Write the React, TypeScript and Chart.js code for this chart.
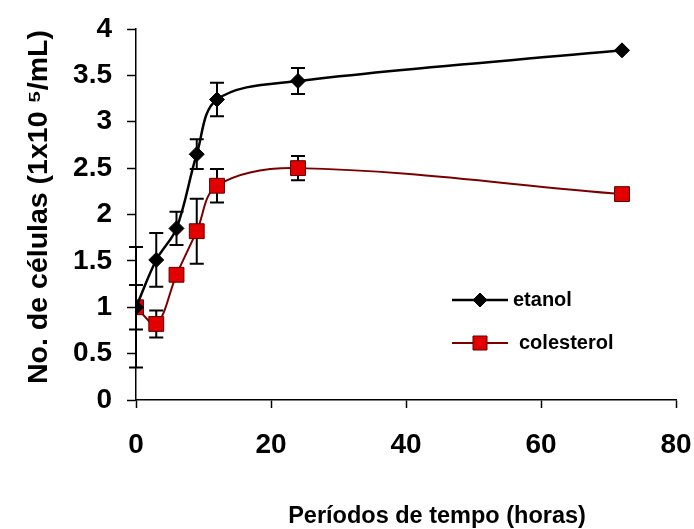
import React, { useEffect, useRef } from "react";
import { Chart, registerables } from "chart.js";

Chart.register(...registerables);

const hours = [0, 3, 6, 9, 12, 24, 72];
const etanol = [1.0, 1.51, 1.85, 2.65, 3.24, 3.44, 3.77];
const etanolErr = [0.65, 0.29, 0.18, 0.16, 0.18, 0.14, 0];
const colesterol = [1.0, 0.82, 1.35, 1.82, 2.31, 2.5, 2.22];
const colesterolErr = [0.24, 0.145, 0.05, 0.35, 0.18, 0.13, 0];
const seriesNames = ["etanol", "colesterol"];
const xTitle = "Períodos de tempo (horas)";
const yTitle = "No. de células (1x10 ⁵/mL)";

const FONT = "'Liberation Sans', Arial, sans-serif";

const errorBarPlugin = {
  id: "errorBars",
  beforeDatasetsDraw(chart: any) {
    const { ctx, scales } = chart;
    const errs = [etanolErr, colesterolErr];
    ctx.save();
    ctx.strokeStyle = "#000";
    ctx.lineWidth = 2;
    chart.data.datasets.forEach((ds: any, i: number) => {
      ds.data.forEach((p: any, j: number) => {
        const e = errs[i][j];
        if (!e) return;
        const x = scales.x.getPixelForValue(p.x);
        const y1 = scales.y.getPixelForValue(p.y + e);
        const y2 = scales.y.getPixelForValue(p.y - e);
        ctx.beginPath();
        ctx.moveTo(x, y1);
        ctx.lineTo(x, y2);
        ctx.moveTo(x - 7, y1);
        ctx.lineTo(x + 7, y1);
        ctx.moveTo(x - 7, y2);
        ctx.lineTo(x + 7, y2);
        ctx.stroke();
      });
    });
    ctx.restore();
  },
};

const titlesPlugin = {
  id: "axisTitles",
  afterDraw(chart: any) {
    const { ctx } = chart;
    ctx.save();
    ctx.fillStyle = "#000";
    ctx.textAlign = "center";
    ctx.textBaseline = "middle";
    ctx.font = `bold 23.5px ${FONT}`;
    ctx.fillText(xTitle, 437, 517);
    ctx.translate(39, 207);
    ctx.rotate(-Math.PI / 2);
    ctx.font = `bold 28.5px ${FONT}`;
    ctx.fillText(yTitle, 0, 0);
    ctx.restore();
  },
};

const legendPlugin = {
  id: "customLegend",
  afterDraw(chart: any) {
    const { ctx } = chart;
    const rows = [
      { y: 300, textX: 513 },
      { y: 343, textX: 519 },
    ];
    ctx.save();
    chart.data.datasets.forEach((ds: any, i: number) => {
      const r = rows[i];
      ctx.strokeStyle = ds.borderColor;
      ctx.lineWidth = ds.borderWidth;
      ctx.beginPath();
      ctx.moveTo(452, r.y);
      ctx.lineTo(508, r.y);
      ctx.stroke();
      ctx.fillStyle = ds.pointBackgroundColor;
      ctx.strokeStyle = ds.pointBorderColor;
      ctx.lineWidth = 1;
      ctx.beginPath();
      if (i === 0) {
        ctx.moveTo(480, r.y - 7);
        ctx.lineTo(487, r.y);
        ctx.lineTo(480, r.y + 7);
        ctx.lineTo(473, r.y);
        ctx.closePath();
      } else {
        ctx.rect(473, r.y - 7, 14, 14);
      }
      ctx.fill();
      ctx.stroke();
      ctx.fillStyle = "#000";
      ctx.font = `bold 20px ${FONT}`;
      ctx.textBaseline = "middle";
      ctx.textAlign = "left";
      ctx.fillText(ds.label, r.textX, r.y);
    });
    ctx.restore();
  },
};

export default function App() {
  const ref = useRef<HTMLCanvasElement>(null);
  useEffect(() => {
    if (!ref.current) return;
    const chart = new Chart(ref.current, {
      type: "line",
      data: {
        datasets: [
          {
            label: seriesNames[0],
            data: hours.map((h, i) => ({ x: h, y: etanol[i] })),
            borderColor: "#000",
            borderWidth: 2.5,
            pointStyle: "rectRot",
            pointRadius: 7.5,
            pointBackgroundColor: "#000",
            pointBorderColor: "#000",
            pointBorderWidth: 1,
            tension: 0.35,
          },
          {
            label: seriesNames[1],
            data: hours.map((h, i) => ({ x: h, y: colesterol[i] })),
            borderColor: "#7a0000",
            borderWidth: 2,
            pointStyle: "rect",
            pointRadius: 10.5,
            pointBackgroundColor: "#e30000",
            pointBorderColor: "#600000",
            pointBorderWidth: 1,
            tension: 0.35,
          },
        ],
      },
      plugins: [errorBarPlugin, legendPlugin, titlesPlugin],
      options: {
        animation: false,
        responsive: false,
        layout: { padding: { left: 0, right: 18, top: 29, bottom: 0 } },
        plugins: { legend: { display: false }, tooltip: { enabled: false } },
        scales: {
          x: {
            type: "linear",
            min: 0,
            max: 80,
            ticks: {
              stepSize: 20,
              color: "#000",
              font: { family: FONT, size: 28, weight: "bold" },
              padding: 20,
            },
            grid: {
              drawOnChartArea: false,
              drawTicks: true,
              tickLength: 8,
              tickColor: "#000",
              tickWidth: 1.5,
            },
            border: { display: true, color: "#000", width: 1.5 },
            title: { display: false },
            afterFit: (s: any) => {
              s.height = 129;
              s.paddingLeft = 0;
              s.paddingRight = 0;
            },
          },
          y: {
            min: 0,
            max: 4,
            ticks: {
              stepSize: 0.5,
              color: "#000",
              font: { family: FONT, size: 28, weight: "bold" },
              padding: 15,
              callback: (v: any) => String(v),
            },
            grid: {
              drawOnChartArea: false,
              drawTicks: true,
              tickLength: 9,
              tickColor: "#000",
              tickWidth: 1.5,
            },
            border: { display: true, color: "#000", width: 1.5 },
            title: { display: false },
            afterFit: (s: any) => {
              s.width = 136;
              s.paddingTop = 0;
              s.paddingBottom = 0;
            },
          },
        },
      },
    });
    return () => chart.destroy();
  }, []);
  return (
    <div style={{ position: "absolute", left: 0, top: 0, width: 694, height: 529, background: "#fff" }}>
      <canvas ref={ref} width={694} height={529} style={{ display: "block" }} />
    </div>
  );
}
